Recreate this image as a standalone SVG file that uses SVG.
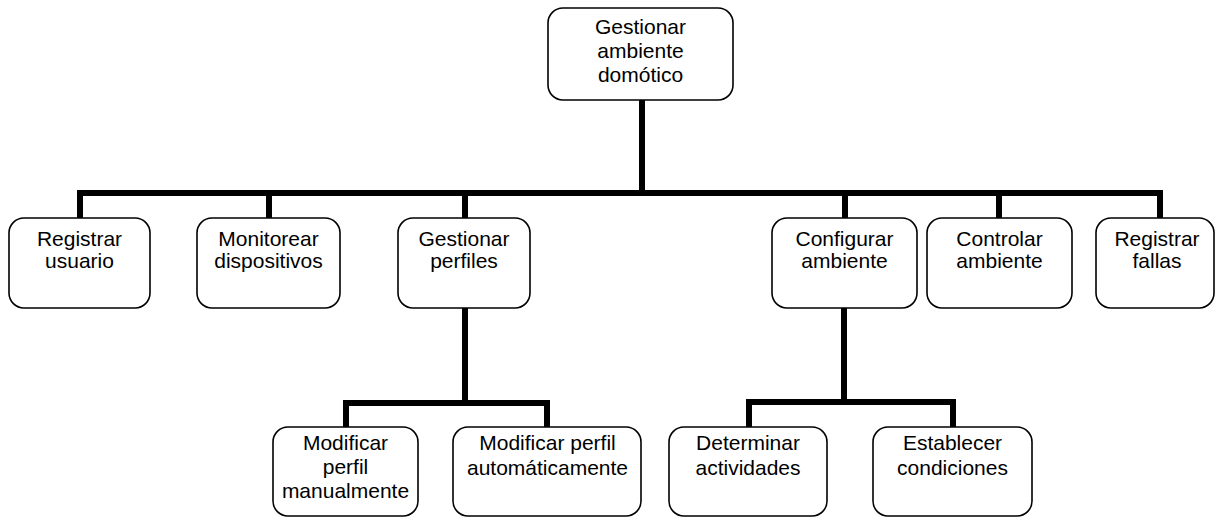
<svg xmlns="http://www.w3.org/2000/svg" width="1217" height="518" viewBox="0 0 1217 518">
  <style>
    .box { fill: #ffffff; stroke: #000000; stroke-width: 1.6; }
    .lbl { font-family: "Liberation Sans", Arial, sans-serif; font-size: 21px; fill: #000000; text-anchor: middle; }
    .link { fill: none; stroke: #000000; stroke-width: 6; stroke-linejoin: miter; stroke-linecap: butt; }
  </style>
  <rect width="1217" height="518" fill="#ffffff"/>

  <!-- tree connectors -->
  <g id="connectors">
    <path class="link" d="M642 100 V193"/>
    <path class="link" d="M80 218 V193 H1160 V218"/>
    <path class="link" d="M269 193 V218"/>
    <path class="link" d="M465 193 V218"/>
    <path class="link" d="M845 193 V218"/>
    <path class="link" d="M999 193 V218"/>
    <path class="link" d="M465 308 V403"/>
    <path class="link" d="M346 427 V403 H547 V427"/>
    <path class="link" d="M844 308 V402"/>
    <path class="link" d="M749 427 V402 H953 V427"/>
  </g>

  <g id="root">
    <rect class="box" x="548" y="8" width="185" height="92" rx="15"/>
    <text class="lbl" x="640.5" y="34">Gestionar</text>
    <text class="lbl" x="640.5" y="58">ambiente</text>
    <text class="lbl" x="640.5" y="82">domótico</text>
  </g>

  <g id="registrar-usuario">
    <rect class="box" x="9" y="218" width="141" height="90" rx="15"/>
    <text class="lbl" x="79.5" y="246">Registrar</text>
    <text class="lbl" x="79.5" y="268">usuario</text>
  </g>

  <g id="monitorear-dispositivos">
    <rect class="box" x="197" y="218" width="143" height="90" rx="15"/>
    <text class="lbl" x="268.5" y="246">Monitorear</text>
    <text class="lbl" x="268.5" y="268">dispositivos</text>
  </g>

  <g id="gestionar-perfiles">
    <rect class="box" x="398" y="218" width="132" height="90" rx="15"/>
    <text class="lbl" x="464" y="246">Gestionar</text>
    <text class="lbl" x="464" y="268">perfiles</text>
  </g>

  <g id="configurar-ambiente">
    <rect class="box" x="772" y="218" width="145" height="90" rx="15"/>
    <text class="lbl" x="844.5" y="246">Configurar</text>
    <text class="lbl" x="844.5" y="268">ambiente</text>
  </g>

  <g id="controlar-ambiente">
    <rect class="box" x="927" y="218" width="145" height="90" rx="15"/>
    <text class="lbl" x="999.5" y="246">Controlar</text>
    <text class="lbl" x="999.5" y="268">ambiente</text>
  </g>

  <g id="registrar-fallas">
    <rect class="box" x="1096" y="218" width="118" height="90" rx="15"/>
    <text class="lbl" x="1157" y="246">Registrar</text>
    <text class="lbl" x="1157" y="268">fallas</text>
  </g>

  <g id="modificar-manual">
    <rect class="box" x="273" y="427" width="145" height="89" rx="15"/>
    <text class="lbl" x="345.5" y="450">Modificar</text>
    <text class="lbl" x="345.5" y="474">perfil</text>
    <text class="lbl" x="345.5" y="498">manualmente</text>
  </g>

  <g id="modificar-automatico">
    <rect class="box" x="453" y="427" width="188" height="89" rx="15"/>
    <text class="lbl" x="547.5" y="450">Modificar perfil</text>
    <text class="lbl" x="547.5" y="475">automáticamente</text>
  </g>

  <g id="determinar-actividades">
    <rect class="box" x="669" y="427" width="158" height="89" rx="15"/>
    <text class="lbl" x="748" y="450">Determinar</text>
    <text class="lbl" x="748" y="475">actividades</text>
  </g>

  <g id="establecer-condiciones">
    <rect class="box" x="873" y="427" width="159" height="89" rx="15"/>
    <text class="lbl" x="952.5" y="450">Establecer</text>
    <text class="lbl" x="952.5" y="475">condiciones</text>
  </g>
</svg>
